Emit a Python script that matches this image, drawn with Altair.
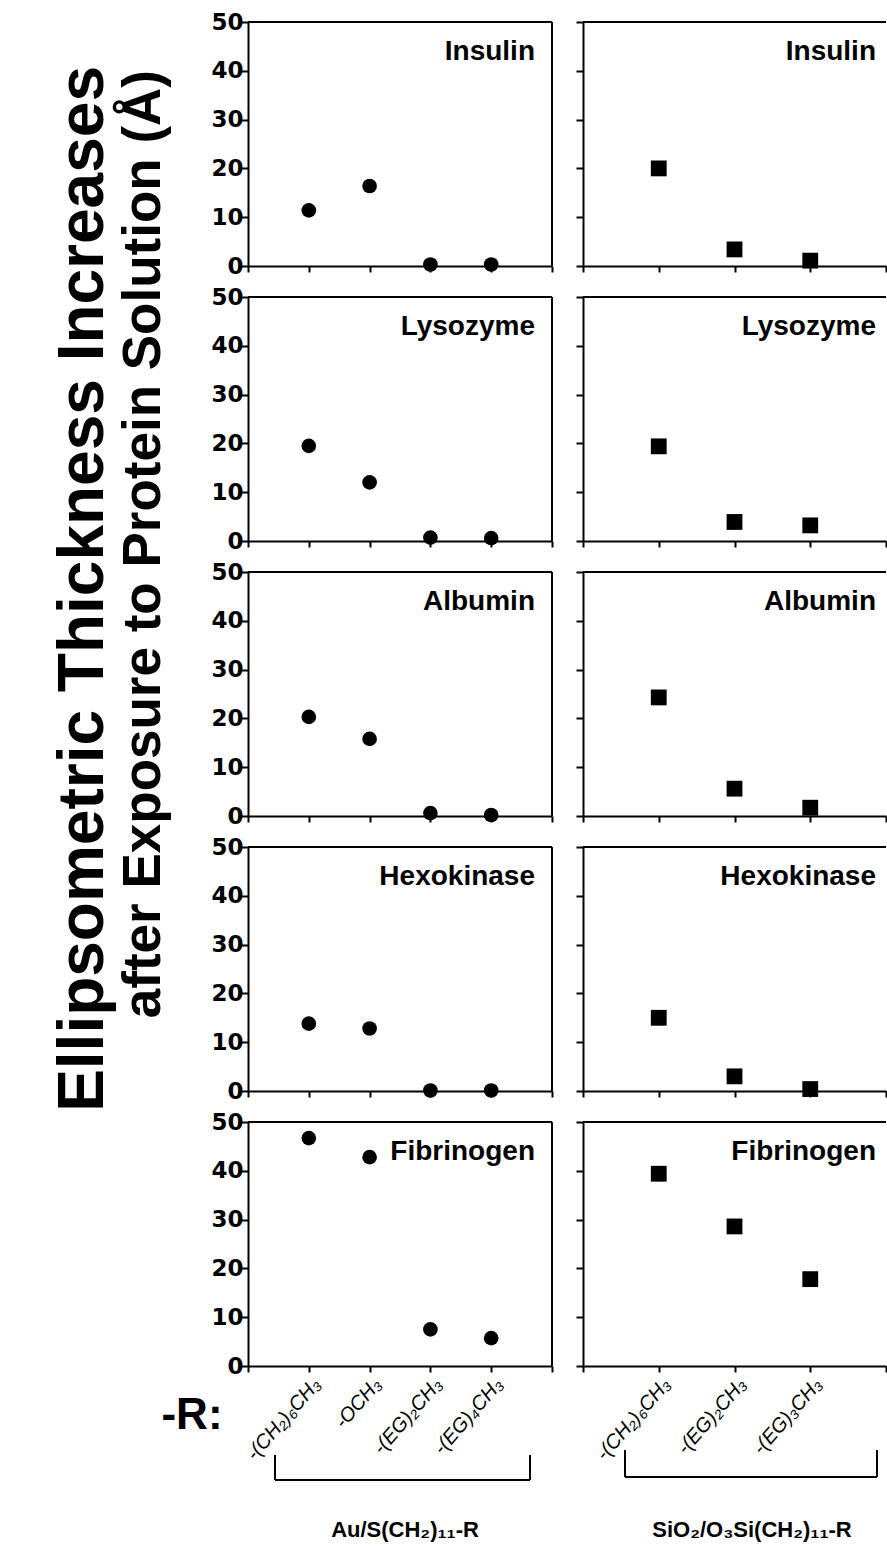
import json

import altair as alt
import pandas as pd

# Proteins, one row of panels each
proteins = ["Insulin", "Lysozyme", "Albumin", "Hexokinase", "Fibrinogen"]

# Terminal groups R of the two monolayer families
au_groups = ["-(CH₂)₆CH₃", "-OCH₃", "-(EG)₂CH₃", "-(EG)₄CH₃"]
si_groups = ["-(CH₂)₆CH₃", "-(EG)₂CH₃", "-(EG)₃CH₃"]

# Ellipsometric thickness increase (Å) on Au/S(CH2)11-R
insulin_au = [11.4, 16.4, 0.3, 0.3]
lysozyme_au = [19.5, 12.0, 0.7, 0.6]
albumin_au = [20.3, 15.8, 0.6, 0.2]
hexokinase_au = [13.8, 12.8, 0.1, 0.1]
fibrinogen_au = [46.7, 42.8, 7.5, 5.7]

# Ellipsometric thickness increase (Å) on SiO2/O3Si(CH2)11-R
insulin_si = [20.0, 3.4, 1.1]
lysozyme_si = [19.4, 3.9, 3.2]
albumin_si = [24.3, 5.6, 1.7]
hexokinase_si = [15.0, 3.0, 0.4]
fibrinogen_si = [39.4, 28.6, 17.8]

au_series = [insulin_au, lysozyme_au, albumin_au, hexokinase_au, fibrinogen_au]
si_series = [insulin_si, lysozyme_si, albumin_si, hexokinase_si, fibrinogen_si]

y_ticks = [0, 10, 20, 30, 40, 50]
title_lines = ["Ellipsometric Thickness Increases",
               "after Exposure to Protein Solution (Å)"]
r_label = "-R:"
family_labels = ["Au/S(CH₂)₁₁-R", "SiO₂/O₃Si(CH₂)₁₁-R"]

W_AU, W_SI, H = 304, 303, 244
GAP = 31
SANS = "Liberation Sans, Arial, Helvetica, sans-serif"
TICK_FONT = "DejaVu Sans, Liberation Sans, sans-serif"


def text_layer(text, x, y, size, font=SANS, **kw):
    return alt.Chart(pd.DataFrame({"t": [text]})).mark_text(
        font=font, fontWeight="bold", fontSize=size, color="black", **kw
    ).encode(x=alt.value(x), y=alt.value(y), text="t:N")


def rule_layer(x, x2, y, y2):
    return alt.Chart(pd.DataFrame({"k": [0]})).mark_rule(
        color="black", strokeWidth=2
    ).encode(x=alt.value(x), x2=alt.value(x2), y=alt.value(y), y2=alt.value(y2))


def panel(values, groups, width, shape, size, name, inset, left, last):
    n = len(groups)
    pts = pd.DataFrame({"pos": list(range(1, n + 1)), "thickness": values})
    names = json.dumps([""] + groups + [""], ensure_ascii=False)
    x_axis = alt.Axis(
        values=list(range(n + 2)), labels=last, grid=False,
        labelExpr=f"{names}[datum.value]",
        labelAngle=-49, labelAlign="right", labelBaseline="top",
        labelFont=SANS, labelFontStyle="italic",
        # the end ticks carry no label: give them no size at all
        labelFontSize={"condition": {"test": f"datum.value < 1 || datum.value > {n}",
                                     "value": 0}, "value": 20},
        labelPadding=2, labelOverlap=False, labelFlush=False, labelBound=False,
        tickSize=6, title=None,
    )
    y_axis = alt.Axis(
        values=y_ticks, labels=left, grid=False, labelFont=TICK_FONT,
        labelFontWeight="bold", labelFontSize=23, labelPadding=-2,
        labelFlush=False, labelOverlap=False,
        tickSize=7, title=None,
    )
    pts_layer = alt.Chart(pts).mark_point(
        shape=shape, filled=True, color="black", opacity=1, size=size
    ).encode(
        x=alt.X("pos:Q", scale=alt.Scale(domain=[0, n + 1], nice=False, zero=False), axis=x_axis),
        y=alt.Y("thickness:Q", scale=alt.Scale(domain=[0, 50], nice=False), axis=y_axis),
    )
    # frame: top edge always, right edge only where the panel ends inside the page
    frame = [rule_layer(0, width, 0, 0)]
    if left:
        frame.append(rule_layer(width, width, 0, H))
    label = text_layer(name, width - inset, 38, 28, align="right", baseline="alphabetic")
    return frame + [pts_layer, label]


cells = []
for i, protein in enumerate(proteins):
    last = i == len(proteins) - 1
    left_layers = panel(au_series[i], au_groups, W_AU, "circle", 215, protein, 17, True, last)
    right_layers = panel(si_series[i], si_groups, W_SI, "square", 250, protein, 10, False, last)
    if i == 0:
        # anchor at the page origin, then the two-line axis title
        anchor = alt.Chart(pd.DataFrame({"k": [0]})).mark_rule(opacity=0).encode(
            x=alt.value(-248), x2=alt.value(-248), y=alt.value(-22), y2=alt.value(-22))
        left_layers += [
            anchor,
            text_layer(title_lines[0], -164, 44, 64, angle=270, align="right", baseline="middle"),
            text_layer(title_lines[1], -104, 48, 53, angle=270, align="right", baseline="middle"),
        ]
    if last:
        left_layers += [
            text_layer(r_label, -56, 294, 44, align="center", baseline="middle"),
            rule_layer(27, 27, 333, 358),
            rule_layer(282, 282, 333, 358),
            rule_layer(27, 282, 358, 358),
            text_layer(family_labels[0], 157, 408, 22, align="center", baseline="middle"),
        ]
        right_layers += [
            rule_layer(42, 42, 328, 355),
            rule_layer(294, 294, 328, 355),
            rule_layer(42, 294, 355, 355),
            text_layer(family_labels[1], 169, 408, 22, align="center", baseline="middle"),
        ]
    cells.append(alt.layer(*left_layers).properties(width=W_AU, height=H))
    cells.append(alt.layer(*right_layers).properties(width=W_SI, height=H))

chart = alt.concat(*cells, columns=2, spacing=GAP, bounds="flush").properties(
    padding={"left": 0, "top": 0, "right": 0, "bottom": 4},
    background="white",
).configure_view(
    stroke="transparent", strokeWidth=0
).configure_axis(
    domainColor="black", domainWidth=2, tickColor="black", tickWidth=2,
    labelColor="black", grid=False,
)

chart.save("out.html", embed_options={"renderer": "svg", "actions": False})
